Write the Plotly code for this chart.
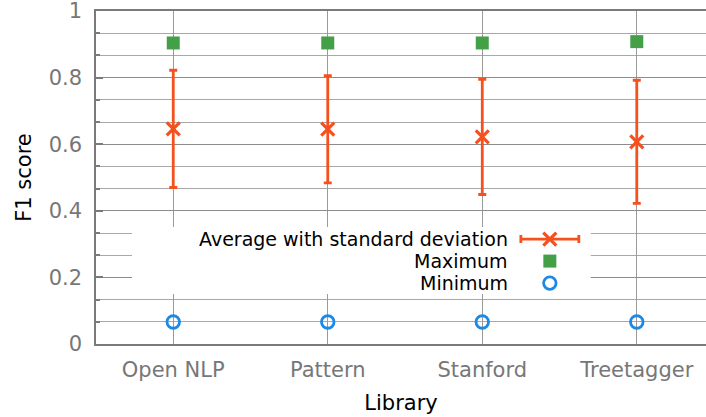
import plotly.graph_objects as go

libraries = ["Open NLP", "Pattern", "Stanford", "Treetagger"]
avg_f1 = [0.646, 0.645, 0.622, 0.607]
std_f1 = [0.176, 0.161, 0.173, 0.185]
max_f1 = [0.904, 0.904, 0.904, 0.908]
min_f1 = [0.066, 0.066, 0.066, 0.066]

legend_labels = ["Average with standard deviation", "Maximum", "Minimum"]

ORANGE = "#f4511e"
GREEN = "#43a047"
BLUE = "#1e88e5"
FONT = "DejaVu Sans"

xs = list(range(len(libraries)))

fig = go.Figure()

fig.add_trace(go.Scatter(
    x=xs, y=avg_f1, mode="markers",
    marker=dict(symbol="x-thin", size=13, line=dict(color=ORANGE, width=3.2), color=ORANGE),
    error_y=dict(type="data", array=std_f1, symmetric=True, color=ORANGE, thickness=2.8, width=4),
    showlegend=False, cliponaxis=False,
))
fig.add_trace(go.Scatter(
    x=xs, y=max_f1, mode="markers",
    marker=dict(symbol="square", size=13, color=GREEN),
    showlegend=False,
))
fig.add_trace(go.Scatter(
    x=xs, y=min_f1, mode="markers",
    marker=dict(symbol="circle-open", size=12.5, color=BLUE, line=dict(color=BLUE, width=2.8)),
    showlegend=False,
))

# custom gnuplot-style key (text on the left, sample on the right), drawn on an overlay axis
box_x = [0.059, 0.811, 0.811, 0.059, 0.059]
box_y = [0.150, 0.150, 0.351, 0.351, 0.150]
fig.add_trace(go.Scatter(
    x=box_x, y=box_y, mode="lines", fill="toself", fillcolor="white",
    line=dict(width=0, color="white"), xaxis="x2", yaxis="y2",
    showlegend=False, hoverinfo="skip",
))

key_x = 0.744
key_ys = [0.315, 0.249, 0.183]
fig.add_trace(go.Scatter(
    x=[key_x], y=[key_ys[0]], mode="markers", xaxis="x2", yaxis="y2",
    marker=dict(symbol="x-thin", size=13, line=dict(color=ORANGE, width=3.2), color=ORANGE),
    error_x=dict(type="data", array=[0.0475], symmetric=True, color=ORANGE, thickness=2.8, width=4),
    showlegend=False, hoverinfo="skip",
))
fig.add_trace(go.Scatter(
    x=[key_x], y=[key_ys[1]], mode="markers", xaxis="x2", yaxis="y2",
    marker=dict(symbol="square", size=13, color=GREEN),
    showlegend=False, hoverinfo="skip",
))
fig.add_trace(go.Scatter(
    x=[key_x], y=[key_ys[2]], mode="markers", xaxis="x2", yaxis="y2",
    marker=dict(symbol="circle-open", size=12.5, color=BLUE, line=dict(color=BLUE, width=2.8)),
    showlegend=False, hoverinfo="skip",
))

for lab, yy in zip(legend_labels, key_ys):
    fig.add_annotation(text=lab, xref="paper", yref="paper", x=0.678, y=yy,
                       xanchor="right", yanchor="middle", showarrow=False,
                       font=dict(family=FONT, size=19, color="black"))

fig.update_layout(
    width=706, height=417,
    margin=dict(l=96, r=0, t=11, b=73),
    plot_bgcolor="white", paper_bgcolor="white",
    font=dict(family=FONT, size=21, color="#777777"),
    xaxis=dict(
        range=[-0.5, 3.448], tickvals=xs, ticktext=libraries,
        showgrid=True, gridcolor="#9a9a9a", gridwidth=1,
        showline=True, linecolor="#7a7a7a", linewidth=1.5, mirror=True,
        ticks="", zeroline=False, ticklabelstandoff=6,
        title=dict(text="Library", font=dict(family=FONT, size=21, color="black"), standoff=14),
        tickfont=dict(family=FONT, size=21, color="#777777"),
    ),
    yaxis=dict(
        range=[0, 1], tickvals=[0, 0.2, 0.4, 0.6, 0.8, 1], ticktext=["0", "0.2", "0.4", "0.6", "0.8", "1"],
        showgrid=True, gridcolor="#8c8c8c", gridwidth=1,
        minor=dict(tickvals=[k / 15 for k in range(16)], showgrid=True, gridcolor="#a8a8a8", gridwidth=1,
                   ticks="inside", ticklen=4, tickcolor="#7a7a7a"),
        showline=True, linecolor="#7a7a7a", linewidth=1.5, mirror=False,
        ticks="inside", ticklen=7, tickcolor="#7a7a7a", tickwidth=1.5,
        zeroline=False, ticklabelstandoff=8, ticklabeloverflow="allow",
        title=dict(text="F1 score", font=dict(family=FONT, size=21, color="black"), standoff=11),
        tickfont=dict(family=FONT, size=21, color="#777777"),
    ),
    xaxis2=dict(overlaying="x", range=[0, 1], visible=False, fixedrange=True),
    yaxis2=dict(overlaying="y", range=[0, 1], visible=False, fixedrange=True),
)

fig.write_html("out.html")
